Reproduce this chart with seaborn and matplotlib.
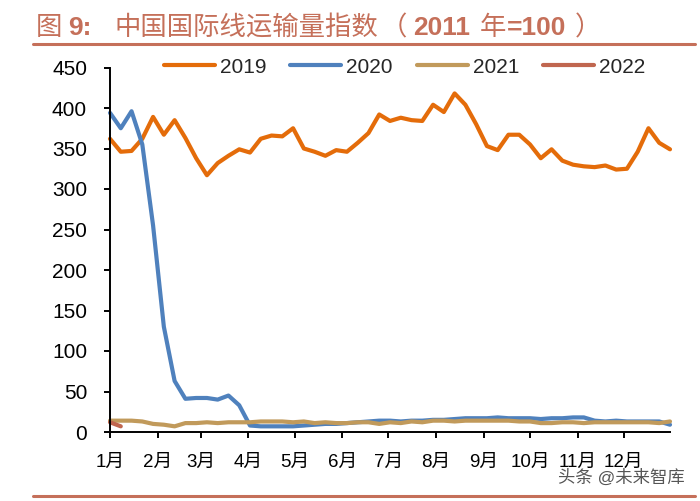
import pandas as pd
import matplotlib
matplotlib.use('Agg')
import matplotlib.pyplot as plt
import matplotlib.dates as mdates
from matplotlib.lines import Line2D
import seaborn as sns

y2019 = [362, 346, 347, 362, 389, 367, 385, 363, 338, 317, 332, 341, 349, 345, 362, 366, 365,
         375, 350, 346, 341, 348, 346, 357, 369, 392, 384, 388, 385, 384, 404, 395, 418, 404,
         380, 353, 348, 367, 367, 355, 338, 349, 335, 330, 328, 327, 329, 324, 325, 346, 375,
         357, 349]
y2020 = [394, 375, 396, 355, 255, 130, 63, 41, 42, 42, 40, 45, 33, 8, 7, 7, 7, 7, 8, 9, 10, 10,
         11, 12, 13, 14, 14, 13, 14, 14, 15, 15, 16, 17, 17, 17, 18, 17, 17, 17, 16, 17, 17,
         18, 18, 14, 13, 14, 13, 13, 13, 13, 9]
y2021 = [14, 14, 14, 13, 10, 9, 7, 11, 11, 12, 11, 12, 12, 12, 13, 13, 13, 12, 13, 11, 12, 11,
         11, 12, 12, 10, 12, 11, 13, 12, 14, 14, 13, 14, 14, 14, 14, 14, 13, 13, 11, 11, 12,
         12, 11, 12, 12, 12, 12, 12, 12, 11, 13]
y2022 = [12, 7]
years = ['2019', '2020', '2021', '2022']
colors = ['#E46C0A', '#4F81BD', '#C19A5B', '#C0664F']
months = ['1月', '2月', '3月', '4月', '5月', '6月', '7月', '8月', '9月', '10月', '11月', '12月']
yticks = [0, 50, 100, 150, 200, 250, 300, 350, 400, 450]

weeks = pd.date_range('2019-01-01', periods=53, freq='7D')
frames = []
for name, vals in zip(years, [y2019, y2020, y2021, y2022]):
    frames.append(pd.DataFrame({'date': weeks[:len(vals)], 'value': vals, 'year': name}))
df = pd.concat(frames)

sns.set_style('white')
plt.rcParams['font.family'] = ['Liberation Sans', 'Noto Sans CJK SC', 'DejaVu Sans']

fig = plt.figure(figsize=(7, 5.01), dpi=100)
ax = fig.add_axes([110 / 700, 1 - 432 / 501, 560 / 700, 364.5 / 501])

sns.lineplot(data=df, x='date', y='value', hue='year', palette=colors, linewidth=3,
             estimator=None, errorbar=None, ax=ax, clip_on=False)

ax.set_xlim(pd.Timestamp('2019-01-01'), pd.Timestamp('2019-12-31'))
ax.set_ylim(0, 450)
ax.set_yticks(yticks)
ax.set_xticks(mdates.date2num(pd.date_range('2019-01-01', periods=12, freq='MS')))
ax.set_xticklabels(months)
ax.set_xlabel('')
ax.set_ylabel('')
ax.tick_params(axis='both', direction='out', length=4.5, width=1.4, color='black',
               labelcolor='black', bottom=True, left=True)
ax.tick_params(axis='x', pad=11, labelsize=13.5)
ax.tick_params(axis='y', pad=12, labelsize=15)
sns.despine(ax=ax)
for s in ['left', 'bottom']:
    ax.spines[s].set_color('black')
    ax.spines[s].set_linewidth(1.4)

ax.legend(loc='upper left', bbox_to_anchor=(0.096, 1.027), ncol=4, frameon=False, fontsize=15,
          handlelength=2.45, handletextpad=0.24, columnspacing=1.15, borderpad=0, borderaxespad=0)

title_color = '#C5705A'
title_parts = [('图', 36, 'normal'), ('9:', 68, 'bold'), ('中国国际线运输量指数', 114, 'normal'),
               ('（', 381, 'normal'), ('2011', 413, 'bold'), ('年', 480, 'normal'),
               ('=100', 507, 'bold'), ('）', 575, 'normal')]
for txt, px, wt in title_parts:
    fig.text(px / 700, 1 - 35 / 501, txt, color=title_color, fontsize=19, fontweight=wt,
             va='baseline', ha='left')
fig.add_artist(Line2D([33 / 700, 695 / 700], [1 - 44 / 501] * 2, color=title_color, lw=2.2))
fig.add_artist(Line2D([33 / 700, 695 / 700], [1 - 495.5 / 501] * 2, color=title_color, lw=2.2))

fig.text(558 / 700, 1 - 483 / 501, '头条 @未来智库', color='#555555', fontsize=12.5,
         va='baseline', ha='left')

fig.savefig('out.png', dpi=100)
